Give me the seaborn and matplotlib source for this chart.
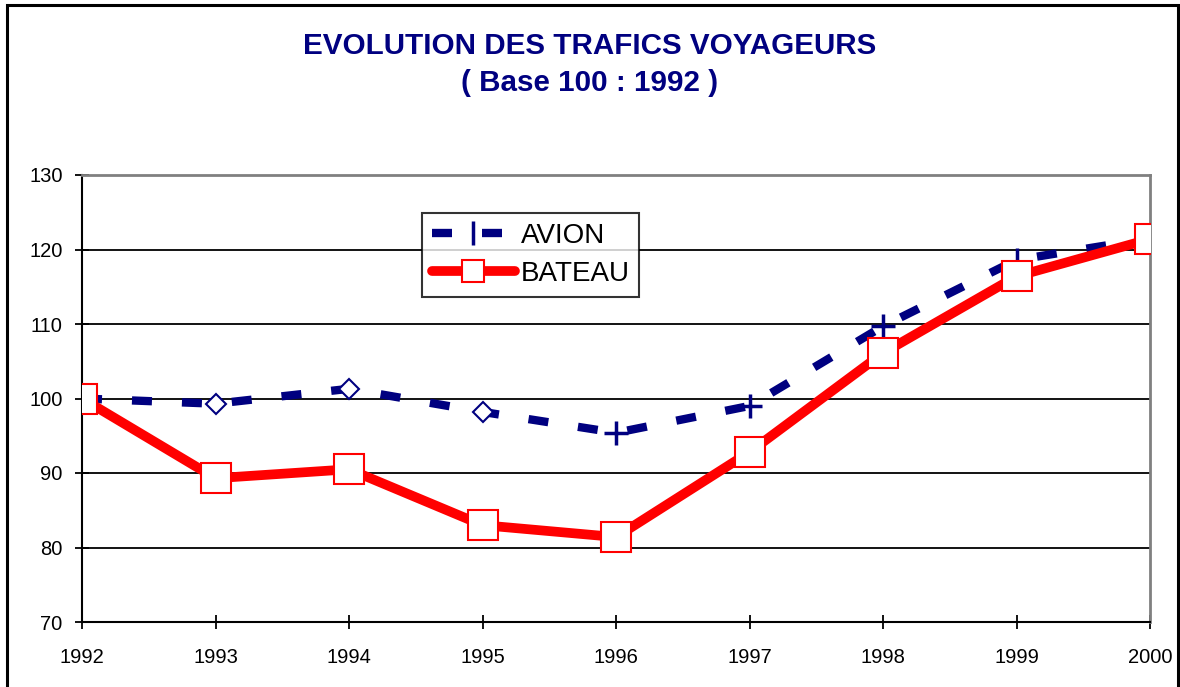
# trafics voyageurs - avion vs bateau, base 100 en 1992
import matplotlib
matplotlib.use("Agg")
import matplotlib.pyplot as plt
import seaborn as sns
import pandas as pd
from matplotlib.lines import Line2D
from matplotlib.patches import Rectangle

years = [1992, 1993, 1994, 1995, 1996, 1997, 1998, 1999, 2000]
avion = [100.0, 99.3, 101.3, 98.2, 95.4, 99.0, 109.7, 118.6, 121.5]
bateau = [100.0, 89.3, 90.5, 83.0, 81.4, 92.8, 106.1, 116.4, 121.4]
yticks = [70, 80, 90, 100, 110, 120, 130]

df = pd.DataFrame({"annee": years, "AVION": avion, "BATEAU": bateau})

NAVY = "#000080"
RED = "#ff0000"

sns.set_style("white")
plt.rcParams["font.family"] = ["Liberation Sans", "DejaVu Sans"]
plt.rcParams["text.color"] = "black"

fig = plt.figure(figsize=(11.8, 6.87), dpi=100)
ax = fig.add_axes([82 / 1180, 1 - 622 / 687, (1150 - 82) / 1180, (622 - 175) / 687])

# horizontal grid lines, black like the original excel chart
for y in yticks[1:-1]:
    ax.axhline(y, color="black", lw=1.3, zorder=1)

# avion : dashed navy line
sns.lineplot(data=df, x="annee", y="AVION", ax=ax, color=NAVY, lw=6,
             linestyle=(0, (2.4, 3.6)), dash_capstyle="butt", zorder=3)

# odd excel markers on the avion series
avion_markers = ["|", "D", "D", "D", "+", "+", "+", "|", "|"]
for x, y, m in zip(years, avion, avion_markers):
    if m == "D":
        ax.plot(x, y, marker="D", ms=10, mfc="white", mec=NAVY, mew=1.5, zorder=4)
    else:
        ax.plot(x, y, marker=m, ms=17, mec=NAVY, mew=2.5, zorder=4)

# bateau : thick red line with white squares
sns.lineplot(data=df, x="annee", y="BATEAU", ax=ax, color=RED, lw=7,
             marker="s", markersize=21, markerfacecolor="white",
             markeredgecolor=RED, markeredgewidth=1.5, zorder=5)

ax.set_xlim(1992, 2000)
ax.set_ylim(70, 130)
ax.set_xticks(years)
ax.set_yticks(yticks)
ax.set_xlabel("")
ax.set_ylabel("")
# seaborn "white" hides the ticks, excel draws them across the axis
ax.tick_params(axis="both", bottom=True, left=True, direction="inout",
               length=10, width=1.3, colors="black", labelcolor="black",
               labelsize=14.5)
ax.tick_params(axis="x", pad=14)
ax.tick_params(axis="y", pad=9)

for side in ["left", "bottom"]:
    ax.spines[side].set_color("black")
    ax.spines[side].set_linewidth(1.5)
for side in ["top", "right"]:
    ax.spines[side].set_visible(True)
    ax.spines[side].set_color("#808080")
    ax.spines[side].set_linewidth(2)

handles = [
    Line2D([], [], color=NAVY, lw=6, linestyle=(0, (2.4, 3.6)),
           dash_capstyle="butt", marker="|", ms=17, mew=2.5, mec=NAVY),
    Line2D([], [], color=RED, lw=7, marker="s", ms=16, mfc="white",
           mec=RED, mew=1.5, solid_capstyle="round"),
]
leg = fig.legend(handles, ["AVION", "BATEAU"], loc="upper left",
                 bbox_to_anchor=(422 / 1180, 1 - 213 / 687), fontsize=20,
                 frameon=True, fancybox=False, handlelength=3.0,
                 handletextpad=0.2, borderpad=0.35, labelspacing=0.45,
                 borderaxespad=0)
leg.get_frame().set_edgecolor("black")
leg.get_frame().set_linewidth(1.5)
for t in leg.get_texts():
    t.set_color("black")

fig.text(0.5, 1 - 46 / 687, "EVOLUTION DES TRAFICS VOYAGEURS", ha="center",
         va="center", fontsize=21.3, fontweight="bold", color=NAVY)
fig.text(0.5, 1 - 83 / 687, "( Base 100 : 1992 )", ha="center",
         va="center", fontsize=21.3, fontweight="bold", color=NAVY)

# outer frame of the chart area
fig.patches.append(Rectangle((7 / 1180, -0.01), 1171 / 1180, 1 - 5 / 687 + 0.01,
                             transform=fig.transFigure, fill=False,
                             edgecolor="black", lw=2.2))

fig.savefig("out.png", dpi=100)
